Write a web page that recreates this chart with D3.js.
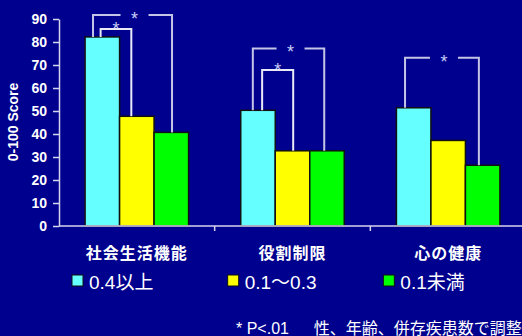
<!DOCTYPE html>
<html>
<head>
<meta charset="utf-8">
<script src="https://cdn.jsdelivr.net/npm/d3@7"></script>
<style>
  html, body { margin: 0; padding: 0; background: #00008e; overflow: hidden; }
  svg { display: block; }
  text { font-family: "Liberation Sans", Arial, "Noto Sans CJK JP", sans-serif; }
</style>
</head>
<body>
<svg id="chart" width="522" height="336"></svg>
<script>
// Domains / categories
const categories = ["社会生活機能", "役割制限", "心の健康"];
const seriesNames = ["0.4以上", "0.1〜0.3", "0.1未満"];

// Mean 0-100 scores per category, one array per series
const highValues = [82.2, 50.3, 51.4];
const midValues = [47.7, 32.7, 37.2];
const lowValues = [40.7, 32.7, 26.4];

const yTicks = [0, 10, 20, 30, 40, 50, 60, 70, 80, 90];
const yTitle = "0-100 Score";
const footnote = "* P<.01\u3000  性、年齢、併存疾患数で調整後";

// Significance brackets: category index, series pair, bracket level in score units
const brackets = [
  { cat: 0, from: 0, to: 2, level: 91.7, mark: "gap" },
  { cat: 0, from: 0, to: 1, level: 85.6, mark: "above" },
  { cat: 1, from: 0, to: 2, level: 77.2, mark: "gap" },
  { cat: 1, from: 0, to: 1, level: 67.8, mark: "above" },
  { cat: 2, from: 0, to: 2, level: 73.1, mark: "gap" }
];

const colors = ["#66ffff", "#ffff00", "#00ff00"];
const seriesValues = [highValues, midValues, lowValues];

const svg = d3.select("#chart");
const plotLeft = 59, plotRight = 526, plotTop = 19, plotBottom = 226;

const x0 = d3.scaleBand().domain(categories).range([plotLeft, plotRight]).paddingInner(0).paddingOuter(0);
const x1 = d3.scaleBand().domain(d3.range(seriesNames.length))
  .range([0, x0.bandwidth()]).paddingInner(0).paddingOuter(0.756);
const y = d3.scaleLinear().domain([0, 90]).range([plotBottom, plotTop]);

// Bars
const groups = svg.append("g").selectAll("g")
  .data(categories)
  .join("g")
  .attr("transform", d => `translate(${x0(d)},0)`);

groups.selectAll("rect")
  .data((d, ci) => seriesValues.map((vals, si) => ({ si, v: vals[ci] })))
  .join("rect")
  .attr("x", d => x1(d.si))
  .attr("width", x1.bandwidth())
  .attr("y", d => y(d.v))
  .attr("height", d => y(0) - y(d.v))
  .attr("fill", d => colors[d.si])
  .attr("stroke", "#111")
  .attr("stroke-width", 1.5);

// Y axis
const yAxis = svg.append("g")
  .attr("transform", `translate(${plotLeft},0)`)
  .call(d3.axisLeft(y).tickValues(yTicks).tickSize(6).tickPadding(6).tickSizeOuter(0));
yAxis.select(".domain").attr("stroke", "#d4d4ec").attr("stroke-width", 1.5);
yAxis.selectAll(".tick line").attr("stroke", "#d4d4ec").attr("stroke-width", 1.5);
yAxis.selectAll(".tick text")
  .attr("fill", "#ffffff")
  .style("font-size", "14px")
  .style("font-weight", "bold")
  .style("font-family", "'Liberation Sans', Arial, sans-serif");

// X axis: baseline with boundary ticks between categories
const xAxis = svg.append("g").attr("transform", `translate(0,${plotBottom})`);
xAxis.append("line")
  .attr("x1", plotLeft).attr("x2", plotRight)
  .attr("stroke", "#d4d4ec").attr("stroke-width", 1.5);
xAxis.selectAll("line.bound")
  .data(categories.slice(1))
  .join("line")
  .attr("class", "bound")
  .attr("x1", d => x0(d)).attr("x2", d => x0(d))
  .attr("y1", 0).attr("y2", 5)
  .attr("stroke", "#d4d4ec").attr("stroke-width", 1.5);

// Category labels
svg.append("g").selectAll("text")
  .data(categories)
  .join("text")
  .attr("x", d => x0(d) + x0.bandwidth() / 2)
  .attr("y", 259)
  .attr("text-anchor", "middle")
  .attr("fill", "#ffffff")
  .style("font-family", "'Noto Sans CJK JP', sans-serif")
  .style("font-weight", "bold")
  .style("font-size", "16px")
  .style("letter-spacing", "1px")
  .text(d => d);

// Y title
svg.append("text")
  .attr("transform", "translate(18,122) rotate(-90)")
  .attr("text-anchor", "middle")
  .attr("fill", "#ffffff")
  .style("font-weight", "bold")
  .style("font-size", "14px")
  .text(yTitle);

// Significance brackets: legs sit at a fraction across each bar
const legFrac = [
  { from: 0.23, to: 0.52 },
  { from: 0.45, to: 0.34 },
  { from: 0.35, to: 0.42 },
  { from: 0.62, to: 0.52 },
  { from: 0.25, to: 0.39 }
];
const bg = svg.append("g");
brackets.forEach((b, i) => {
  const gx = x0(categories[b.cat]);
  const xa = gx + x1(b.from) + x1.bandwidth() * legFrac[i].from;
  const xb = gx + x1(b.to) + x1.bandwidth() * legFrac[i].to;
  const yl = y(b.level);
  const ya = y(seriesValues[b.from][b.cat]);
  const yb = y(seriesValues[b.to][b.cat]);
  const col = b.mark === "gap" ? "#c4c4e6" : "#e8e8f6";
  const mid = (xa + xb) / 2 + (b.mark === "gap" ? 2 : 0);
  if (b.mark === "gap") {
    const gap = 14;
    bg.append("path")
      .attr("d", `M${xa},${ya}V${yl}H${mid - gap}M${mid + gap},${yl}H${xb}V${yb}`)
      .attr("fill", "none").attr("stroke", col).attr("stroke-width", 2);
    bg.append("text")
      .attr("x", mid).attr("y", yl + 10)
      .attr("text-anchor", "middle")
      .attr("fill", "#c8cef4")
      .style("font-size", "18px")
      .text("*");
  } else {
    bg.append("path")
      .attr("d", `M${xa},${ya}V${yl}H${xb}V${yb}`)
      .attr("fill", "none").attr("stroke", col).attr("stroke-width", 2);
    bg.append("text")
      .attr("x", mid).attr("y", yl + 6)
      .attr("text-anchor", "middle")
      .attr("fill", "#c8cef4")
      .style("font-size", "18px")
      .text("*");
  }
});

// Legend
const legend = svg.append("g").selectAll("g")
  .data(seriesNames)
  .join("g")
  .attr("transform", (d, i) => `translate(${x0(categories[i]) + 13},275)`);
legend.append("rect")
  .attr("width", 11).attr("height", 11)
  .attr("fill", (d, i) => colors[i])
  .attr("stroke", "#111").attr("stroke-width", 1);
legend.append("text")
  .attr("x", 17).attr("y", 13.5)
  .attr("fill", "#ffffff")
  .style("font-size", "19px")
  .text(d => d);

// Footnote
svg.append("text")
  .attr("x", 236).attr("y", 334)
  .attr("fill", "#ffffff")
  .style("font-size", "16px")
  .style("white-space", "pre")
  .text(footnote);
</script>
</body>
</html>
